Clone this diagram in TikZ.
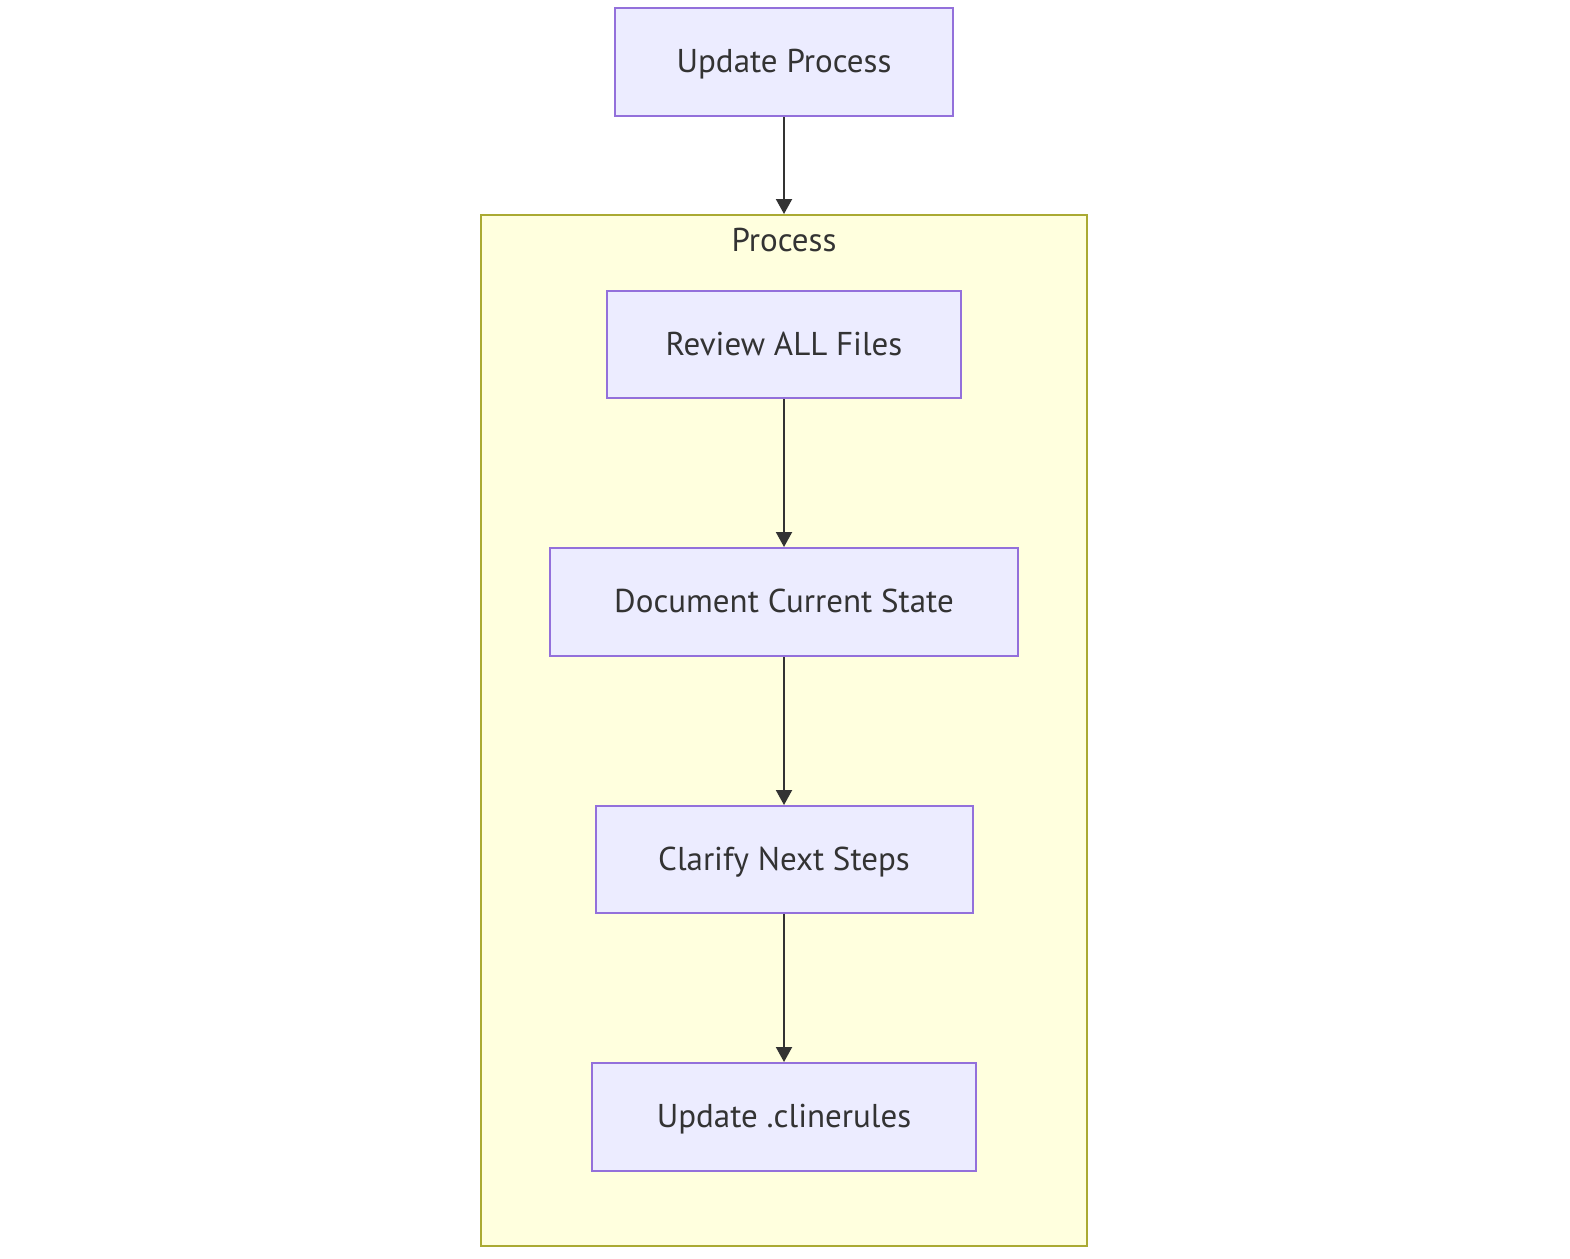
\documentclass[tikz,border=0pt]{standalone}
\usepackage{fontspec}
\setmainfont{PT Sans}
\usetikzlibrary{arrows.meta}
\definecolor{boxfill}{HTML}{ECECFF}
\definecolor{boxdraw}{HTML}{9370DB}
\definecolor{clfill}{HTML}{FFFFDE}
\definecolor{cldraw}{HTML}{AAAA33}
\definecolor{txt}{HTML}{333333}
\tikzset{
  lbl/.style={text=txt, font=\fontsize{33}{38}\selectfont, text height=23pt, text depth=1.5pt},
  stepbox/.style={lbl, draw=boxdraw, fill=boxfill, line width=2pt, inner sep=0pt},
  conn/.style={draw=txt, line width=2pt, -{Triangle[width=16pt,length=15pt]}},
}
\begin{document}
\begin{tikzpicture}[x=1pt,y=-1pt]
\useasboundingbox (0,0) rectangle (1570,1258);
\node[draw=cldraw, fill=clfill, line width=2pt, minimum width=606pt, minimum height=1031pt, inner sep=0pt] (cl) at (784,730.5) {};
\node[lbl] (cltitle) at (784,241) {Process};
\node[stepbox, minimum width=338pt, minimum height=108pt] (a) at (784,62) {Update Process};
\node[stepbox, minimum width=354pt, minimum height=107pt] (b) at (784,344.5) {Review ALL Files};
\node[stepbox, minimum width=468pt, minimum height=108pt] (c) at (784,602) {Document Current State};
\node[stepbox, minimum width=377pt, minimum height=107pt] (d) at (784,859.5) {Clarify Next Steps};
\node[stepbox, minimum width=384pt, minimum height=108pt] (e) at (784,1117) {Update .clinerules};
\draw[conn] (a.south) -- (cl.north);
\draw[conn] (b) -- (c);
\draw[conn] (c) -- (d);
\draw[conn] (d) -- (e);
\end{tikzpicture}
\end{document}
